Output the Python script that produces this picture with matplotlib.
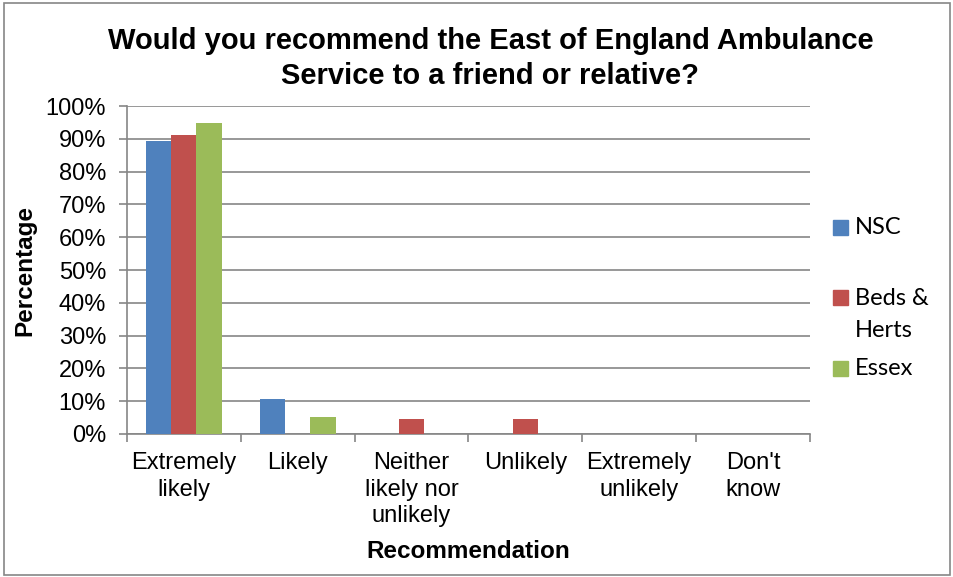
import numpy as np
import matplotlib.pyplot as plt
from matplotlib.patches import Rectangle
from matplotlib.ticker import PercentFormatter

# Survey responses, percentage of respondents per area
categories = ['Extremely\nlikely', 'Likely', 'Neither\nlikely nor\nunlikely',
              'Unlikely', 'Extremely\nunlikely', "Don't\nknow"]
series_names = ['NSC', 'Beds &\nHerts', 'Essex']
nsc = [89.5, 10.5, 0, 0, 0, 0]
beds_herts = [91.3, 0, 4.4, 4.4, 0, 0]
essex = [95.0, 5.1, 0, 0, 0, 0]
colors = ['#4F81BD', '#C0504D', '#9BBB59']

fig = plt.figure(figsize=(9.54, 5.77), dpi=100)
ax = fig.add_axes([0.133, 0.248, 0.716, 0.568])

x = np.arange(len(categories))
w = 0.222
for i, vals in enumerate([nsc, beds_herts, essex]):
    ax.bar(x + (i - 1) * w, vals, width=w, color=colors[i], zorder=3)

ax.set_xlim(-0.5, len(categories) - 0.5)
ax.set_ylim(0, 100)
ax.set_yticks(np.arange(0, 101, 10))
ax.yaxis.set_major_formatter(PercentFormatter(decimals=0))
ax.grid(axis='y', color='#868686', linewidth=1.2, zorder=0)

# category separators as ticks
ax.set_xticks(np.arange(-0.5, len(categories), 1))
ax.set_xticklabels([])
ax.set_xticks(x, minor=True)
ax.set_xticklabels(categories, minor=True, fontfamily='Liberation Sans', fontsize=17,
                   linespacing=1.27)
ax.tick_params(axis='x', which='minor', length=0, pad=13)
ax.tick_params(axis='x', which='major', length=6, color='#868686', width=1.2)
ax.tick_params(axis='y', length=6, color='#868686', width=1.2, pad=9)
for lbl in ax.get_yticklabels():
    lbl.set_fontfamily('Liberation Sans')
    lbl.set_fontsize(17)

for s in ['top', 'right']:
    ax.spines[s].set_visible(False)
for s in ['left', 'bottom']:
    ax.spines[s].set_color('#868686')
    ax.spines[s].set_linewidth(1.2)

fig.text(0.514, 0.899, 'Would you recommend the East of England Ambulance\nService to a friend or relative?',
         ha='center', va='center', fontfamily='Liberation Sans', fontweight='bold',
         fontsize=21, linespacing=1.33)
fig.text(0.026, 0.532, 'Percentage', rotation=90, ha='center', va='center',
         fontfamily='Liberation Sans', fontweight='bold', fontsize=17.5)
fig.text(0.491, 0.045, 'Recommendation', ha='center', va='center',
         fontfamily='Liberation Sans', fontweight='bold', fontsize=17.5)

# legend drawn by hand
leg_y = [0.605, 0.484, 0.361]
for name, c, yy in zip(series_names, colors, leg_y):
    fig.patches.append(Rectangle((0.873, yy - 0.012), 0.0155, 0.025,
                                 transform=fig.transFigure, color=c))
    if '\n' in name:
        fig.text(0.896, yy - 0.029, name, ha='left', va='center',
                 fontfamily='Lato', fontsize=17, linespacing=1.65)
    else:
        fig.text(0.896, yy, name, ha='left', va='center',
                 fontfamily='Lato', fontsize=17)

fig.patches.append(Rectangle((0.004, 0.004), 0.992, 0.99, transform=fig.transFigure,
                             fill=False, edgecolor='#868686', linewidth=1.2))

fig.savefig('out.png', dpi=100)
